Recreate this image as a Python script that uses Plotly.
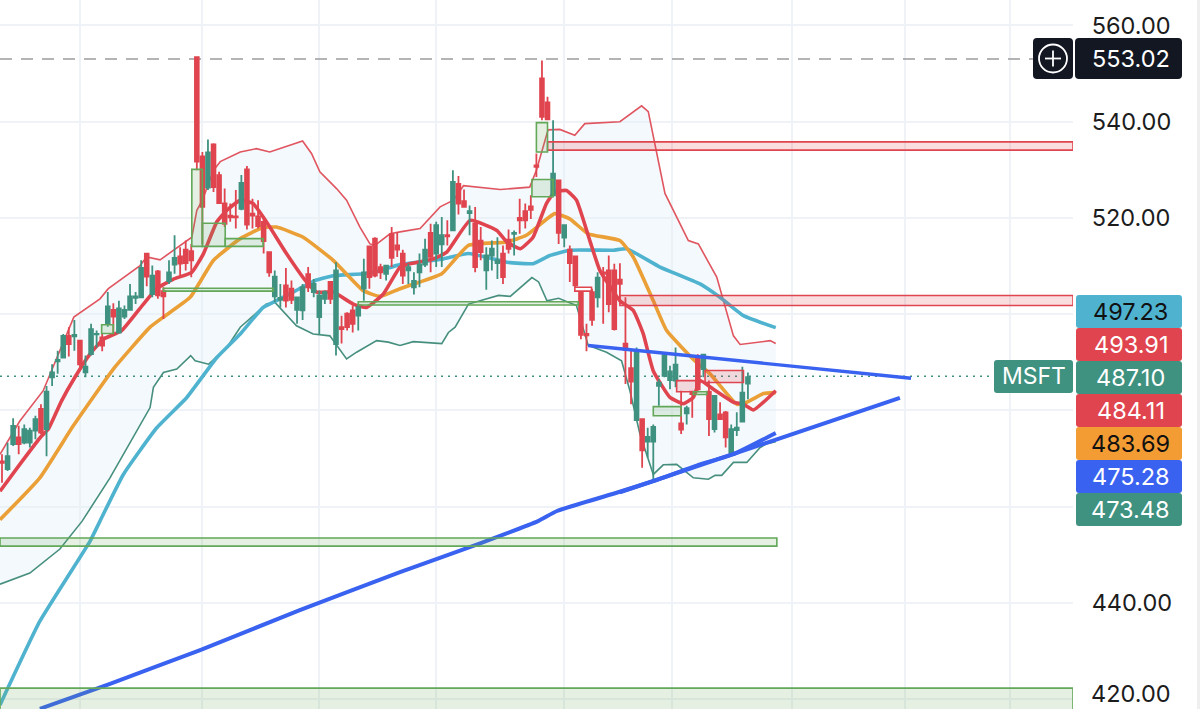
import plotly.graph_objects as go

# ---------- candles ----------
COLOR = list("RGGRGGGRGGGGRGRGGGRGRGGGGGRGRRGGRRRRRGRRRRRGRRRRRGGRRGGRGGGRGRRRGGRRRGR"
             "RRGGGGRGGRGRRGRRGGGRRGRRRRRRGRGRRRRRGRRRRRRGRGGGGGGRGRRGRGRRGGGG")
HIGH = [470.9,473.3,478.4,476.8,477.1,476.4,478.9,481.3,485.1,489.6,492.4,495.9,497.3,498.8,494.6,491.4,498.0,496.6,495.9,504.6,
        502.3,502.8,501.8,506.3,504.6,511.2,512.7,510.1,509.2,505.6,511.2,516.4,513.9,515.3,514.6,553.5,533.7,536.3,535.5,529.6,
        526.1,523.0,525.8,528.9,530.8,524.0,523.7,520.2,513.1,509.1,506.3,509.6,507.0,503.5,506.3,509.8,507.3,504.9,504.9,506.9,
        510.8,499.7,500.4,501.8,502.1,511.5,514.3,516.0,510.5,510.3,518.1,517.1,513.4,510.5,508.7,512.6,515.7,518.8,519.2,520.2,
        519.5,529.9,528.7,525.9,522.6,522.3,518.1,513.9,515.3,516.0,514.3,517.6,517.4,524.0,523.0,524.7,533.4,552.7,545.2,540.3,
        527.8,518.5,514.3,512.2,504.9,498.0,505.3,508.7,509.8,512.2,510.5,510.6,503.5,492.8,493.1,478.2,476.4,477.1,486.5,492.1,
        489.3,493.1,484.1,481.0,484.1,491.7,491.7,486.2,483.0,481.7,479.9,477.1,479.6,489.1,487.9,488.3,486.9,488.6,487.6,487.9]
BODY_TOP = [469.4,470.5,476.8,474.4,476.1,475.8,478.2,480.3,483.9,487.9,490.5,495.5,495.5,495.7,494.5,489.1,496.9,495.9,495.2,501.6,
            500.9,501.2,500.9,503.7,503.7,509.6,512.6,508.0,508.9,504.8,508.7,511.7,512.0,513.4,513.1,553.4,532.8,533.6,535.3,528.9,
            523.0,520.5,520.3,527.3,530.1,520.9,520.3,519.2,512.9,507.8,503.4,506.0,505.3,503.5,505.6,508.3,506.3,503.9,504.6,506.7,
            509.1,497.3,500.1,500.8,501.4,508.7,514.1,515.7,509.8,510.1,516.6,514.3,512.6,509.8,506.9,510.3,513.4,516.9,518.5,516.4,
            516.4,527.5,527.1,523.5,521.4,518.8,515.3,512.2,513.6,511.2,512.6,515.5,516.9,520.0,521.4,522.4,530.9,549.0,544.0,529.2,
            527.8,518.5,513.4,512.0,504.8,495.9,504.6,507.6,508.7,509.1,509.1,507.2,493.9,488.8,492.6,478.2,474.5,476.6,485.8,491.5,
            488.1,489.5,477.3,480.5,483.9,490.7,491.6,483.9,483.0,479.2,479.6,476.1,476.4,483.7,486.9,485.8,486.5,487.6,487.2,486.7]
BODY_BOTTOM = [469.1,467.8,473.0,473.0,473.3,473.3,475.8,475.4,476.1,486.9,490.2,491.0,493.8,495.4,489.6,487.9,491.7,495.8,493.5,498.1,
               499.5,496.2,499.5,500.9,503.4,503.5,507.8,504.2,503.9,503.7,506.9,510.3,510.5,510.6,511.2,531.7,522.3,526.3,526.4,523.1,
               518.8,520.1,520.1,521.9,518.6,520.5,518.3,515.2,508.7,503.7,503.0,502.8,503.0,500.9,500.8,505.6,504.6,499.4,503.2,503.2,
               493.8,496.9,497.3,498.0,499.7,505.3,507.7,508.0,508.7,508.4,511.7,513.4,508.0,509.1,505.6,508.7,510.3,511.9,512.6,514.5,
               516.2,517.4,523.0,522.3,521.0,509.8,512.9,509.1,512.2,510.6,507.7,513.6,516.7,519.5,519.5,521.7,530.6,541.0,540.5,524.7,
               516.9,515.9,510.6,506.0,495.7,495.6,498.8,503.5,508.4,502.1,496.9,506.3,492.6,486.0,478.0,471.7,473.5,473.5,485.1,487.2,
               486.3,486.2,476.0,479.4,483.4,484.4,488.6,478.2,476.1,478.2,474.4,471.2,475.9,477.7,485.6,484.4,484.8,485.1,485.3,484.4]
LOW = [465.0,467.4,472.6,470.9,473.0,472.3,474.0,475.1,470.5,485.1,487.6,491.0,491.2,492.4,489.1,486.9,491.4,493.1,492.3,497.4,
       495.9,496.0,499.0,500.8,502.1,503.5,505.8,503.5,503.2,499.0,506.3,508.4,508.0,509.1,507.7,529.9,514.6,525.8,525.4,523.0,
       518.1,519.2,517.8,521.6,517.6,517.8,517.8,512.6,507.8,502.5,501.4,501.4,502.1,498.0,498.8,504.6,503.5,495.9,502.1,502.1,
       491.4,493.9,496.6,496.2,496.6,502.8,505.3,507.7,507.3,507.0,509.8,511.9,506.3,506.3,504.1,505.6,509.8,508.7,509.8,509.8,
       514.3,517.4,520.7,522.3,516.4,508.7,511.2,505.1,509.1,507.3,506.3,512.6,512.2,516.7,517.8,519.8,528.5,540.3,540.3,524.4,
       514.6,513.9,506.7,504.6,494.8,492.3,497.6,501.4,498.0,500.4,496.6,502.1,485.5,481.3,477.8,468.1,470.2,465.0,481.0,486.9,
       484.4,484.8,475.1,477.1,478.5,484.1,486.9,474.7,475.4,478.2,472.3,470.9,474.7,477.7,482.3,482.7,484.4,485.1,484.8,484.1]
BAR_INDEX = list(range(len(HIGH)))
OPEN = [b if c == "G" else t for c, t, b in zip(COLOR, BODY_TOP, BODY_BOTTOM)]
CLOSE = [t if c == "G" else b for c, t, b in zip(COLOR, BODY_TOP, BODY_BOTTOM)]

# ---------- indicator lines ----------
BB_UP_X = [-0.36,3.2,7.4,11.9,12.9,17.6,19.1,24.8,26.0,28.4,30.8,34.1,35.0,36.0,38.0,39.2,42.8,45.7,48.1,54.0,55.6,57.1,60.1,61.9,64.3,66.1,67.0,69.7,71.5,
           75.1,78.7,81.1,82.9,89.5,94.8,96.0,98.1,100.2,102.9,104.7,111.0,114.9,116.1,119.1,123.3,125.1,128.4,131.4,132.6,138.0,139]
BB_UP_Y = [470.9,477.8,484.1,496.6,499.4,503.2,505.3,510.1,511.9,511.3,513.2,516.0,521.6,523.7,529.9,531.7,533.7,534.4,533.7,536.0,533.4,529.6,526.1,523.7,518.1,514.6,514.3,516.7,517.1,
           517.8,522.3,523.7,526.7,525.9,526.4,529.9,538.3,538.4,537.2,539.6,540.0,543.3,542.1,525.1,515.3,514.6,507.7,495.5,493.7,494.5,493.9]
BB_LOW_X = [-0.36,5.0,10.4,14.4,19.4,26.6,27.2,29.0,31.4,33.9,34.7,37.1,40.4,42.8,47.5,49.0,52.9,55.9,58.9,61.9,63.7,67.3,69.4,71.5,
            73.9,79.0,80.2,81.4,83.8,87.1,89.2,91.3,95.2,96.4,97.9,100.0,103.2,104.7,105.3,108.6,111.3,112.8,114.6,117.0,118.8,121.2,124.2,126.9,128.1,129.3,131.4,133.8,136.2,137.4,139]
BB_LOW_Y = [443.9,446.2,451.2,457.0,466.0,480.6,484.8,487.9,488.6,491.4,490.3,489.6,493.1,497.3,502.1,502.5,497.6,495.9,495.5,490.7,492.1,494.5,494.2,493.5,
            494.3,493.9,496.2,497.3,502.1,503.2,503.9,503.7,507.6,506.7,502.8,503.3,501.8,495.9,493.5,492.1,490.3,484.1,475.1,466.7,468.7,468.8,466.0,465.7,466.5,466.5,469.2,469.2,472.3,473.1,473.5]
EMA_RED_X = [-0.36,3.2,7.1,8.3,10.7,13.1,15.8,18.2,21.5,25.4,27.8,30.8,34.1,36.2,38.6,40.4,42.8,45.1,47.5,51.1,54.7,56.5,59.5,63.1,65.5,68.5,71.5,
             73.3,77.5,79.9,84.1,88.9,90.7,93.1,95.4,97.8,99.3,101.4,103.2,105.6,107.4,111.0,113.4,115.2,117.0,120.0,122.4,124.2,125.4,127.8,131.4,133.2,135.0,139]
EMA_RED_Y = [463.2,468.8,474.7,476.1,482.0,486.9,491.7,494.8,496.6,502.1,505.3,507.3,508.7,512.6,519.2,521.6,523.7,523.0,519.2,512.6,506.7,504.6,504.6,502.1,501.4,504.2,509.8,
             510.5,511.5,512.9,519.5,517.4,515.0,513.6,516.0,523.0,525.4,525.7,523.7,515.3,509.1,502.8,500.8,495.9,488.2,482.7,481.4,482.7,486.2,484.4,481.7,481.3,480.1,484.1]
EMA_ORANGE_X = [-0.36,6.8,12.8,20.0,26.6,29.0,33.8,38.0,42.8,46.9,49.3,54.1,59.5,64.9,67.9,71.5,
                75.1,79.0,83.8,90.7,94.2,99.3,102.0,105.3,111.0,113.4,117.0,119.4,124.5,127.2,132.0,133.8,136.8,139]
EMA_ORANGE_Y = [457.3,466.0,476.8,488.6,497.3,499.4,503.5,511.2,515.7,518.0,518.1,516.0,511.2,504.9,503.7,505.3,
                506.7,508.4,514.3,515.0,516.4,520.9,519.8,516.7,515.3,511.9,502.8,496.6,490.3,487.6,481.3,481.7,483.5,483.7]
EMA_CYAN_X = [-0.36,6.8,15.8,17.6,21.8,27.8,33.2,38.6,42.8,46.9,49.3,52.3,56.5,59.5,64.9,67.9,71.5,
              79.3,83.8,90.7,95.4,98.4,102.0,109.8,112.2,118.2,125.4,129.0,133.2,139]
EMA_CYAN_Y = [418.8,436.2,452.8,457.0,466.7,476.4,482.7,491.0,495.9,501.4,502.8,504.6,507.1,508.0,508.4,509.1,510.3,
              511.5,512.6,510.8,510.5,512.2,513.3,513.3,513.6,509.8,506.3,503.5,499.7,497.2]
EMA_BLUE_X = [6.8,19.4,35.6,53.5,71.5,85.9,96.3,99.7,110.4,117.0,125.4,131.4,139]
EMA_BLUE_Y = [418.0,423.2,430.2,438.5,446.4,452.4,457.0,459.1,462.9,465.3,468.8,470.9,475.3]

TREND_UPPER_X, TREND_UPPER_Y = [105.3, 163.3], [493.5, 486.7]
TREND_LOWER_X, TREND_LOWER_Y = [111.0, 161.3], [463.0, 482.6]

LAST_PRICE, HIGH_LINE = 487.10, 553.02
X_MIN, X_MAX = -0.36, 192.4

# zones: x0, x1, price low, price high
RED_ZONES = [(98.0,X_MAX,534.1,535.8),(111.0,X_MAX,501.8,503.9),(121.2,124.8,483.9,486.2),(126.3,133.2,485.8,488.3)]
WHITE_RED_ZONES = [(102.9,105.9,504.8,505.6)]
GREEN_ZONES = [(34.1,36.0,514.1,530.1),(36.0,40.1,514.1,518.9),(40.1,46.9,514.1,515.7),(29.0,48.7,504.8,505.4),
               (17.9,20.0,496.0,497.8),(64.0,103.5,501.9,502.6),(96.0,98.0,533.7,539.8),(95.2,99.0,524.4,528.0),
               (117.0,122.0,478.9,480.8),(124.2,126.6,483.3,483.9),(X_MIN,139.2,451.8,453.5),(X_MIN,X_MAX,417.0,422.3)]

TICK_VALUES = [420,440,460,480,500,520,540,560]
TICK_TEXT = ["","440.00","","","","520.00","540.00","560.00"]
BOTTOM_LABEL = "420.00"
GRID_X = [14,36,57,78,101,120.4,142,162.2,181]
TAGS = [("497.23","#4fb3cf","#111111"),("493.91","#e0454f","#ffffff"),("487.10","#3f9180","#ffffff"),
        ("484.11","#e0454f","#ffffff"),("483.69","#f39c34","#111111"),("475.28","#3a62f0","#ffffff"),("473.48","#3f9180","#ffffff")]

W, H, PLOT_W = 1200, 709, 1073
RED, GREEN, ZONE_GREEN = "#e0454f", "#3f9180", "#62a858"
FONT = "Inter"
TAG_SIZE = 23.5

def px(x): return x / PLOT_W
def py(y): return 1 - y / H
def rounded(x0, y0, x1, y1, r=4):
    return (f"M{px(x0+r)},{py(y0)} L{px(x1-r)},{py(y0)} Q{px(x1)},{py(y0)} {px(x1)},{py(y0+r)} "
            f"L{px(x1)},{py(y1-r)} Q{px(x1)},{py(y1)} {px(x1-r)},{py(y1)} "
            f"L{px(x0+r)},{py(y1)} Q{px(x0)},{py(y1)} {px(x0)},{py(y1-r)} "
            f"L{px(x0)},{py(y0+r)} Q{px(x0)},{py(y0)} {px(x0+r)},{py(y0)} Z")

fig = go.Figure()
fig.add_trace(go.Scatter(x=BB_UP_X, y=BB_UP_Y, mode="lines", line=dict(color="#e0555f", width=1.6), yaxis="y"))
fig.add_trace(go.Scatter(x=BB_LOW_X, y=BB_LOW_Y, mode="lines", line=dict(color="#468f7e", width=1.6),
                         fill="tonexty", fillcolor="rgba(225,240,250,0.38)", yaxis="y"))
fig.add_trace(go.Scatter(x=[X_MIN, 178.2], y=[LAST_PRICE]*2, mode="lines", line=dict(color=GREEN, width=1.5, dash="2px,5px")))
fig.add_trace(go.Scatter(x=[X_MIN, 185.2], y=[HIGH_LINE]*2, mode="lines", line=dict(color="#9c9c9c", width=1.5, dash="12px,9px")))
fig.add_trace(go.Scatter(x=EMA_CYAN_X, y=EMA_CYAN_Y, mode="lines", line=dict(color="#4fb3cf", width=3.6, shape="spline", smoothing=0.4)))
fig.add_trace(go.Scatter(x=EMA_ORANGE_X, y=EMA_ORANGE_Y, mode="lines", line=dict(color="#ea9f37", width=3.6, shape="spline", smoothing=0.4)))
fig.add_trace(go.Scatter(x=EMA_RED_X, y=EMA_RED_Y, mode="lines", line=dict(color="#e0454f", width=3.6, shape="spline", smoothing=0.4)))
fig.add_trace(go.Scatter(x=EMA_BLUE_X, y=EMA_BLUE_Y, mode="lines", line=dict(color="#3a62f0", width=4, shape="spline", smoothing=0.4)))
fig.add_trace(go.Candlestick(x=BAR_INDEX, open=OPEN, high=HIGH, low=LOW, close=CLOSE, yaxis="y2", whiskerwidth=0,
                             increasing=dict(line=dict(color=GREEN, width=1.8), fillcolor=GREEN),
                             decreasing=dict(line=dict(color=RED, width=1.8), fillcolor=RED)))
fig.add_trace(go.Scatter(x=TREND_UPPER_X, y=TREND_UPPER_Y, mode="lines", line=dict(color="#3a62f0", width=3.4), yaxis="y3"))
fig.add_trace(go.Scatter(x=TREND_LOWER_X, y=TREND_LOWER_Y, mode="lines", line=dict(color="#3a62f0", width=4), yaxis="y3"))

shapes = []
for x0, x1, lo, hi in RED_ZONES:
    shapes.append(dict(type="rect", xref="x", yref="y", x0=x0, x1=x1, y0=lo, y1=hi, layer="above",
                       line=dict(color=RED, width=1.6), fillcolor="rgba(224,69,79,0.18)"))
for x0, x1, lo, hi in WHITE_RED_ZONES:
    shapes.append(dict(type="rect", xref="x", yref="y", x0=x0, x1=x1, y0=lo, y1=hi, layer="above",
                       line=dict(color=RED, width=1.6), fillcolor="#ffffff"))
for x0, x1, lo, hi in GREEN_ZONES:
    shapes.append(dict(type="rect", xref="x", yref="y", x0=x0, x1=x1, y0=lo, y1=hi, layer="above",
                       line=dict(color=ZONE_GREEN, width=1.6), fillcolor="rgba(98,168,88,0.17)"))
# right-hand price tags
annotations = []
tag_top = 295
for i, (txt, bg, fg) in enumerate(TAGS):
    y0 = tag_top + 33 * i
    shapes.append(dict(type="path", xref="paper", yref="paper", path=rounded(1076, y0, 1182, y0 + 33, 3),
                       fillcolor=bg, line=dict(width=0), layer="above"))
    annotations.append(dict(xref="paper", yref="paper", x=px(1131), y=py(y0 + 16.5), text=txt, showarrow=False,
                            font=dict(family=FONT, size=TAG_SIZE, color=fg), xanchor="center", yanchor="middle"))
# bottom axis label, kept inside the page
annotations.append(dict(xref="paper", yref="paper", x=px(1131), y=py(693), text=BOTTOM_LABEL, showarrow=False,
                        font=dict(family=FONT, size=TAG_SIZE, color="#1c1c1c"), xanchor="center", yanchor="middle",
                        borderpad=0, borderwidth=0))
# MSFT tag
shapes.append(dict(type="path", xref="paper", yref="paper", path=rounded(994, 360, 1073, 393, 3),
                   fillcolor=GREEN, line=dict(width=0), layer="above"))
annotations.append(dict(xref="paper", yref="paper", x=px(1033.5), y=py(376.5), text="MSFT", showarrow=False,
                        font=dict(family=FONT, size=23, color="#ffffff"), xanchor="center", yanchor="middle"))
# dark high-price box with plus button
shapes.append(dict(type="path", xref="paper", yref="paper", path=rounded(1033, 38, 1073, 79, 4),
                   fillcolor="#131722", line=dict(width=0), layer="above"))
shapes.append(dict(type="path", xref="paper", yref="paper", path=rounded(1075, 38, 1182, 79, 4),
                   fillcolor="#131722", line=dict(width=0), layer="above"))
shapes.append(dict(type="circle", xref="paper", yref="paper", x0=px(1039), x1=px(1067), y0=py(72.5), y1=py(44.5),
                   line=dict(color="#ffffff", width=1.8), layer="above"))
shapes.append(dict(type="line", xref="paper", yref="paper", x0=px(1045), x1=px(1061), y0=py(58.5), y1=py(58.5),
                   line=dict(color="#ffffff", width=1.8), layer="above"))
shapes.append(dict(type="line", xref="paper", yref="paper", x0=px(1053), x1=px(1053), y0=py(50.5), y1=py(66.5),
                   line=dict(color="#ffffff", width=1.8), layer="above"))
annotations.append(dict(xref="paper", yref="paper", x=px(1131), y=py(58.5), text="553.02", showarrow=False,
                        font=dict(family=FONT, size=TAG_SIZE, color="#ffffff"), xanchor="center", yanchor="middle"))
# thin grey strip on the right edge
shapes.append(dict(type="rect", xref="paper", yref="paper", x0=px(1197), x1=px(1200), y0=0, y1=1,
                   fillcolor="#efefef", line=dict(width=0), layer="above"))

Y_RANGE = [417.96, 565.29]
fig.update_layout(
    width=W, height=H, margin=dict(l=0, r=W - PLOT_W, t=0, b=0), showlegend=False,
    paper_bgcolor="#ffffff", plot_bgcolor="#ffffff", shapes=shapes, annotations=annotations,
    boxgap=0.1, boxgroupgap=0.25,
    xaxis=dict(range=[X_MIN, X_MAX], tickvals=GRID_X, showticklabels=False, showgrid=True, gridcolor="#eff2f6",
               gridwidth=1.5, zeroline=False, rangeslider=dict(visible=False), ticks=""),
    yaxis=dict(range=Y_RANGE, side="right", tickvals=TICK_VALUES, ticktext=TICK_TEXT, showgrid=True, gridcolor="#eff2f6",
               gridwidth=1.5, zeroline=False, ticks="outside", ticklen=13, tickcolor="rgba(0,0,0,0)",
               tickfont=dict(family=FONT, size=TAG_SIZE, color="#1c1c1c")),
    yaxis2=dict(range=Y_RANGE, overlaying="y", side="right", visible=False),
    yaxis3=dict(range=Y_RANGE, overlaying="y", side="right", visible=False),
)
fig.write_html("out.html", config=dict(displayModeBar=False),
               post_script="document.body.style.margin='0';document.documentElement.style.overflow='hidden';")
